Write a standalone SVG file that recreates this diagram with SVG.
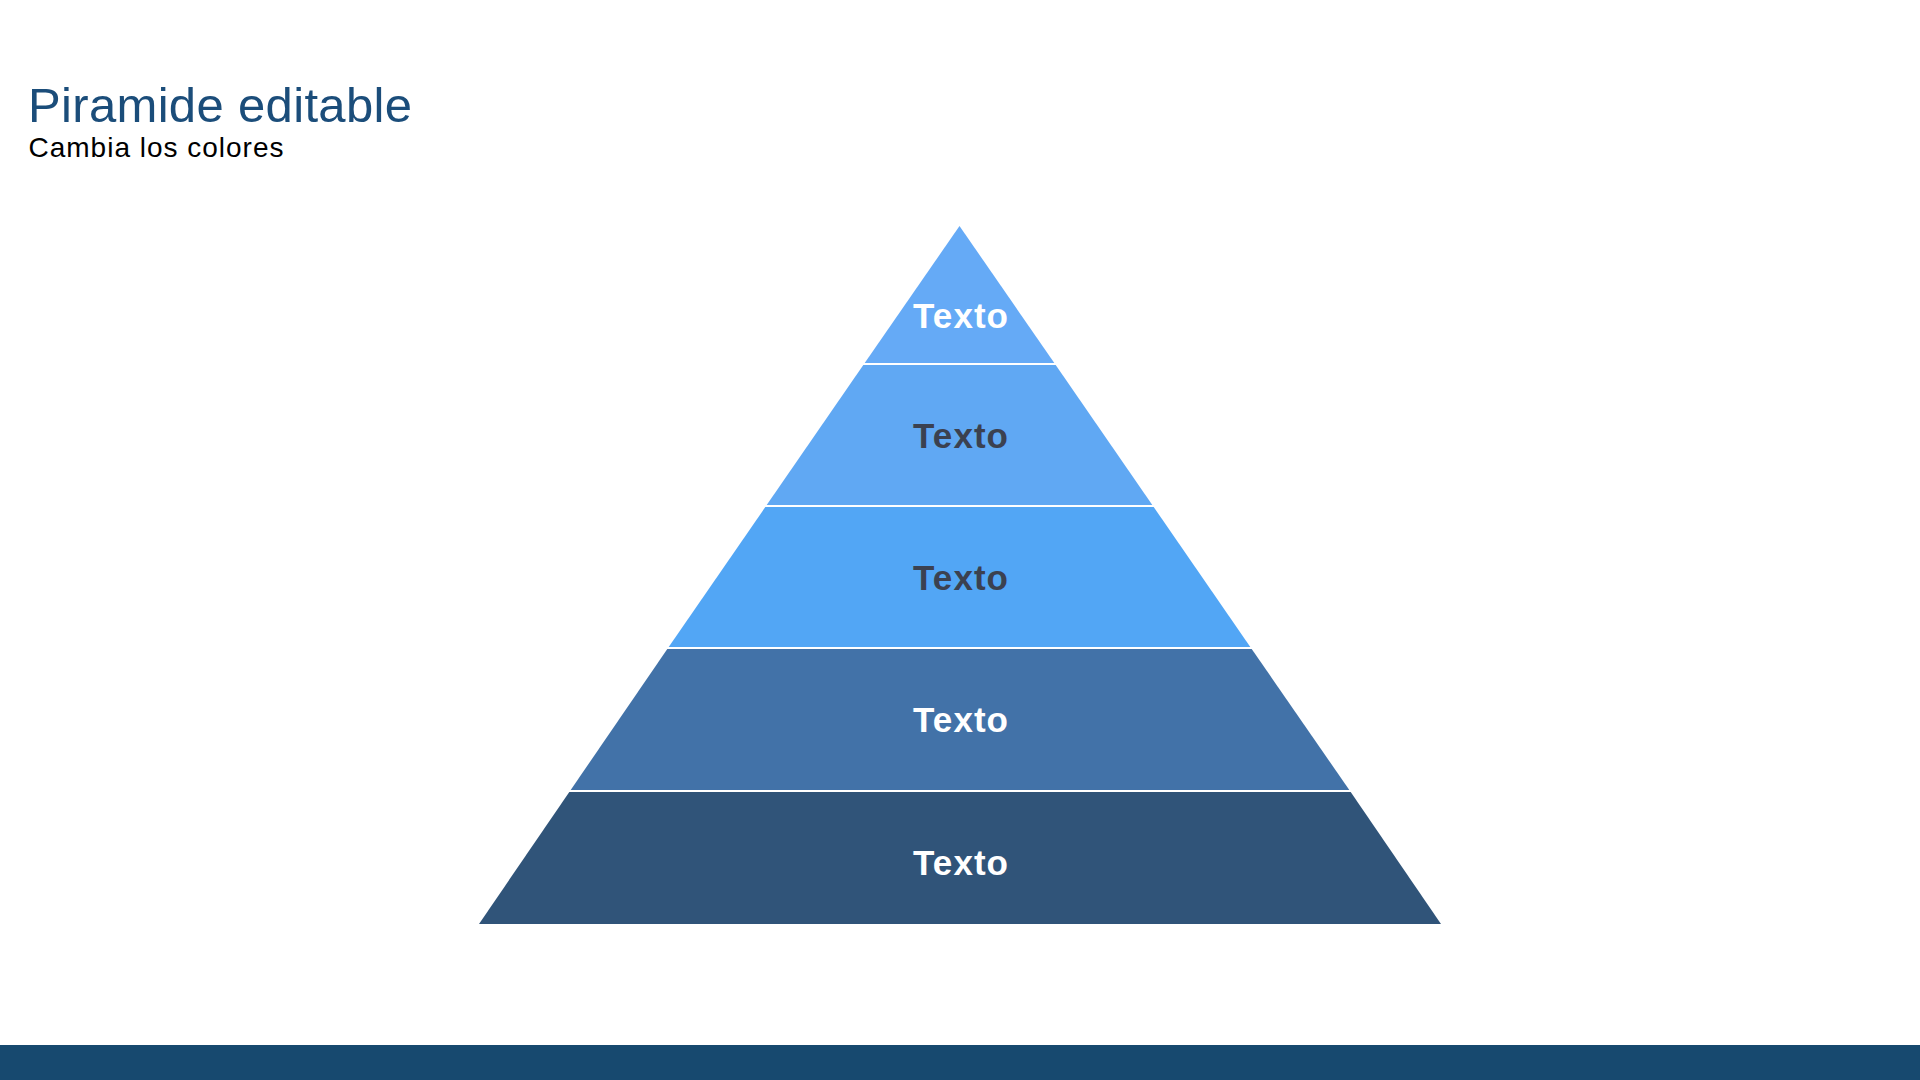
<svg xmlns="http://www.w3.org/2000/svg" width="1920" height="1080" viewBox="0 0 1920 1080">
<style>
.lbl{font-family:"Liberation Sans",Arial,sans-serif;font-weight:bold;font-size:35px;text-anchor:middle}
.w{fill:#ffffff}
.d{fill:#3b4150}
.sep{stroke:#ffffff;stroke-width:2}
</style>
<rect width="1920" height="1080" fill="#ffffff"/>
<text x="28" y="121.5" font-family="Liberation Sans, Arial, sans-serif" font-size="49" fill="#1b4d7a" textLength="384" lengthAdjust="spacing">Piramide editable</text>
<text x="28.5" y="156.7" font-family="Liberation Sans, Arial, sans-serif" font-size="28" fill="#000000" textLength="255" lengthAdjust="spacing">Cambia los colores</text>
<g id="layer1"><polygon points="959.5,226 1055,364 864,364" fill="#65aaf6"/><text class="lbl w" x="960.5" y="328" textLength="95" lengthAdjust="spacing">Texto</text></g>
<g id="layer2"><polygon points="864,364 1055,364 1153,506 766,506" fill="#60a8f3"/><text class="lbl d" x="960.5" y="448" textLength="95" lengthAdjust="spacing">Texto</text></g>
<g id="layer3"><polygon points="766,506 1153,506 1251,648 668,648" fill="#52a6f5"/><text class="lbl d" x="960.5" y="590" textLength="95" lengthAdjust="spacing">Texto</text></g>
<g id="layer4"><polygon points="668,648 1251,648 1350,791 570,791" fill="#4272a8"/><text class="lbl w" x="960.5" y="732" textLength="95" lengthAdjust="spacing">Texto</text></g>
<g id="layer5"><polygon points="570,791 1350,791 1441,924 479,924" fill="#305479"/><text class="lbl w" x="960.5" y="875" textLength="95" lengthAdjust="spacing">Texto</text></g>
<g id="connectors">
<line class="sep" x1="860" y1="364" x2="1060" y2="364"/>
<line class="sep" x1="760" y1="506" x2="1160" y2="506"/>
<line class="sep" x1="660" y1="648" x2="1260" y2="648"/>
<line class="sep" x1="560" y1="791" x2="1360" y2="791"/>
</g>
<rect x="0" y="1045" width="1920" height="35" fill="#17496f"/>
</svg>
